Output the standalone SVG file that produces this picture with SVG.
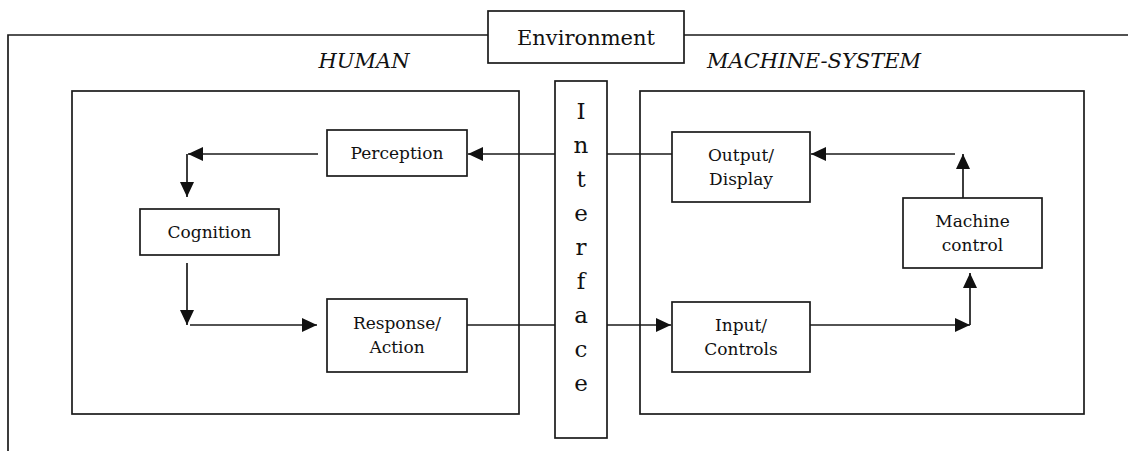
<svg xmlns="http://www.w3.org/2000/svg" width="1128" height="451" viewBox="0 0 1128 451">
<style>
.box{fill:#fff;stroke:#1a1a1a;stroke-width:1.7}
.ln{fill:none;stroke:#1a1a1a;stroke-width:1.7}
.t{font-family:"DejaVu Serif","Liberation Serif",serif;fill:#111;text-anchor:middle}
.s{font-size:17px}
.big{font-size:21px}
.it{font-size:21px;font-style:italic}
.if{font-size:23px}
</style>
<defs>
<marker id="ah" markerUnits="userSpaceOnUse" markerWidth="16" markerHeight="14" refX="15" refY="7" orient="auto" viewBox="0 0 16 14">
<path d="M0,0 L15,7 L0,14 z" fill="#111"/>
</marker>
</defs>
<rect width="1128" height="451" fill="#fff"/>
<g id="environment">
<path class="ln" d="M8 451 V35 H488 M684 35 H1128"/>
<rect class="box" x="488" y="11" width="196" height="52"/>
<text class="t big" x="586" y="45">Environment</text>
</g>
<g id="human">
<text class="t it" x="364" y="68">HUMAN</text>
<rect class="box" x="72" y="91" width="447" height="323"/>
</g>
<g id="machine-system">
<text class="t it" x="814" y="68">MACHINE-SYSTEM</text>
<rect class="box" x="640" y="91" width="444" height="323"/>
</g>
<g id="interface">
<rect class="box" x="555" y="81" width="52" height="357"/>
<text class="t if" x="581" y="119">I</text>
<text class="t if" x="581" y="153">n</text>
<text class="t if" x="581" y="187">t</text>
<text class="t if" x="581" y="221">e</text>
<text class="t if" x="581" y="255">r</text>
<text class="t if" x="581" y="289">f</text>
<text class="t if" x="581" y="323">a</text>
<text class="t if" x="581" y="357">c</text>
<text class="t if" x="581" y="391">e</text>
</g>
<g id="perception">
<rect class="box" x="327" y="130" width="140" height="46"/>
<text class="t s" x="397" y="159">Perception</text>
</g>
<g id="cognition">
<rect class="box" x="140" y="209" width="139" height="46"/>
<text class="t s" x="209.5" y="238">Cognition</text>
</g>
<g id="response">
<rect class="box" x="327" y="299" width="140" height="73"/>
<text class="t s" x="397" y="329">Response/</text>
<text class="t s" x="397" y="353">Action</text>
</g>
<g id="output">
<rect class="box" x="672" y="132" width="138" height="70"/>
<text class="t s" x="741" y="161">Output/</text>
<text class="t s" x="741" y="185">Display</text>
</g>
<g id="machine-control">
<rect class="box" x="903" y="198" width="139" height="70"/>
<text class="t s" x="972.5" y="227">Machine</text>
<text class="t s" x="972.5" y="251">control</text>
</g>
<g id="input">
<rect class="box" x="672" y="302" width="138" height="70"/>
<text class="t s" x="741" y="331">Input/</text>
<text class="t s" x="741" y="355">Controls</text>
</g>
<g id="connectors">
<path class="ln" d="M555 154 H468" marker-end="url(#ah)"/>
<path class="ln" d="M318 154 H188" marker-end="url(#ah)"/>
<path class="ln" d="M187 154 V197" marker-end="url(#ah)"/>
<path class="ln" d="M187 263 V325" marker-end="url(#ah)"/>
<path class="ln" d="M190 325 H317" marker-end="url(#ah)"/>
<path class="ln" d="M467 325 H555"/>
<path class="ln" d="M607 154 H672"/>
<path class="ln" d="M955 154 H811" marker-end="url(#ah)"/>
<path class="ln" d="M963 198 V154" marker-end="url(#ah)"/>
<path class="ln" d="M607 325 H671" marker-end="url(#ah)"/>
<path class="ln" d="M810 325 H970" marker-end="url(#ah)"/>
<path class="ln" d="M970 325 V273" marker-end="url(#ah)"/>
</g>
</svg>
